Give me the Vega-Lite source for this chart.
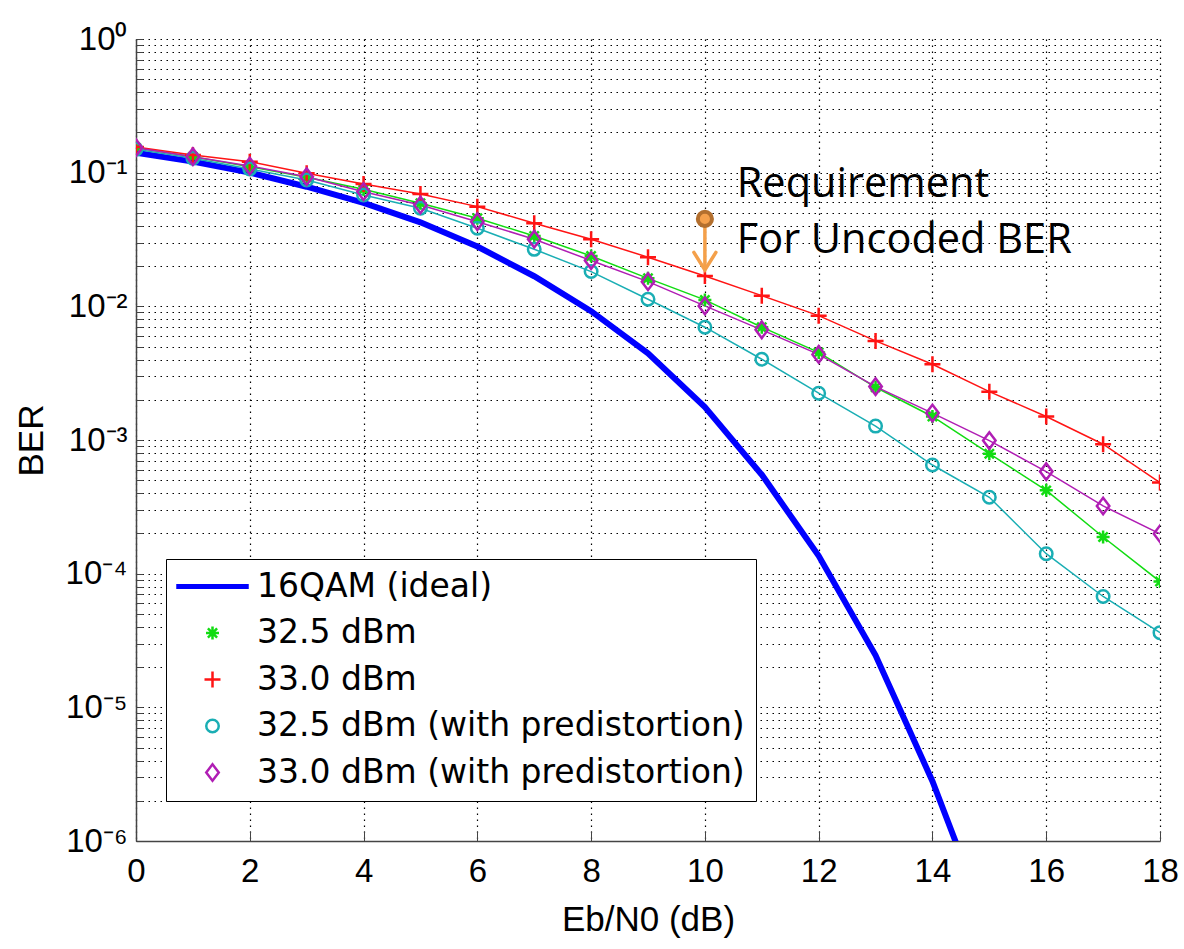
{
  "$schema": "https://vega.github.io/schema/vega-lite/v6.json",
  "width": 1024,
  "height": 802,
  "autosize": {"type": "none"},
  "padding": {"left": 136, "top": 39, "right": 24, "bottom": 108},
  "background": "white",
  "datasets": {
    "curves": [
      {"s": "16QAM (ideal)", "x": 0, "ber": 0.141},
      {"s": "16QAM (ideal)", "x": 1, "ber": 0.121},
      {"s": "16QAM (ideal)", "x": 2, "ber": 0.1},
      {"s": "16QAM (ideal)", "x": 3, "ber": 0.0785},
      {"s": "16QAM (ideal)", "x": 4, "ber": 0.0595},
      {"s": "16QAM (ideal)", "x": 5, "ber": 0.0425},
      {"s": "16QAM (ideal)", "x": 6, "ber": 0.028},
      {"s": "16QAM (ideal)", "x": 7, "ber": 0.0168},
      {"s": "16QAM (ideal)", "x": 8, "ber": 0.0092},
      {"s": "16QAM (ideal)", "x": 9, "ber": 0.00445},
      {"s": "16QAM (ideal)", "x": 10, "ber": 0.00176},
      {"s": "16QAM (ideal)", "x": 11, "ber": 0.00055},
      {"s": "16QAM (ideal)", "x": 12, "ber": 0.000136},
      {"s": "16QAM (ideal)", "x": 13, "ber": 0.0000245},
      {"s": "16QAM (ideal)", "x": 14, "ber": 0.0000028},
      {"s": "16QAM (ideal)", "x": 14.5, "ber": 0.00000078},

      {"s": "32.5 dBm", "x": 0, "ber": 0.1538},
      {"s": "32.5 dBm", "x": 1, "ber": 0.1318},
      {"s": "32.5 dBm", "x": 2, "ber": 0.1109},
      {"s": "32.5 dBm", "x": 3, "ber": 0.0924},
      {"s": "32.5 dBm", "x": 4, "ber": 0.0751},
      {"s": "32.5 dBm", "x": 5, "ber": 0.059},
      {"s": "32.5 dBm", "x": 6, "ber": 0.0456},
      {"s": "32.5 dBm", "x": 7, "ber": 0.0336},
      {"s": "32.5 dBm", "x": 8, "ber": 0.0238},
      {"s": "32.5 dBm", "x": 9, "ber": 0.0162},
      {"s": "32.5 dBm", "x": 10, "ber": 0.01117},
      {"s": "32.5 dBm", "x": 11, "ber": 0.00698},
      {"s": "32.5 dBm", "x": 12, "ber": 0.00452},
      {"s": "32.5 dBm", "x": 13, "ber": 0.00248},
      {"s": "32.5 dBm", "x": 14, "ber": 0.0015},
      {"s": "32.5 dBm", "x": 15, "ber": 0.00079},
      {"s": "32.5 dBm", "x": 16, "ber": 0.00042},
      {"s": "32.5 dBm", "x": 17, "ber": 0.000188},
      {"s": "32.5 dBm", "x": 18, "ber": 0.0000873},

      {"s": "33.0 dBm", "x": 0, "ber": 0.1556},
      {"s": "33.0 dBm", "x": 1, "ber": 0.1356},
      {"s": "33.0 dBm", "x": 2, "ber": 0.1208},
      {"s": "33.0 dBm", "x": 3, "ber": 0.099},
      {"s": "33.0 dBm", "x": 4, "ber": 0.0823},
      {"s": "33.0 dBm", "x": 5, "ber": 0.0693},
      {"s": "33.0 dBm", "x": 6, "ber": 0.0557},
      {"s": "33.0 dBm", "x": 7, "ber": 0.0419},
      {"s": "33.0 dBm", "x": 8, "ber": 0.0318},
      {"s": "33.0 dBm", "x": 9, "ber": 0.0233},
      {"s": "33.0 dBm", "x": 10, "ber": 0.01687},
      {"s": "33.0 dBm", "x": 11, "ber": 0.01202},
      {"s": "33.0 dBm", "x": 12, "ber": 0.00852},
      {"s": "33.0 dBm", "x": 13, "ber": 0.00551},
      {"s": "33.0 dBm", "x": 14, "ber": 0.00369},
      {"s": "33.0 dBm", "x": 15, "ber": 0.0023},
      {"s": "33.0 dBm", "x": 16, "ber": 0.0015},
      {"s": "33.0 dBm", "x": 17, "ber": 0.00093},
      {"s": "33.0 dBm", "x": 18, "ber": 0.00048},

      {"s": "32.5 dBm (with predistortion)", "x": 0, "ber": 0.1496},
      {"s": "32.5 dBm (with predistortion)", "x": 1, "ber": 0.1282},
      {"s": "32.5 dBm (with predistortion)", "x": 2, "ber": 0.1066},
      {"s": "32.5 dBm (with predistortion)", "x": 3, "ber": 0.0882},
      {"s": "32.5 dBm (with predistortion)", "x": 4, "ber": 0.0681},
      {"s": "32.5 dBm (with predistortion)", "x": 5, "ber": 0.0542},
      {"s": "32.5 dBm (with predistortion)", "x": 6, "ber": 0.0384},
      {"s": "32.5 dBm (with predistortion)", "x": 7, "ber": 0.0267},
      {"s": "32.5 dBm (with predistortion)", "x": 8, "ber": 0.0182},
      {"s": "32.5 dBm (with predistortion)", "x": 9, "ber": 0.0113},
      {"s": "32.5 dBm (with predistortion)", "x": 10, "ber": 0.00698},
      {"s": "32.5 dBm (with predistortion)", "x": 11, "ber": 0.00402},
      {"s": "32.5 dBm (with predistortion)", "x": 12, "ber": 0.00224},
      {"s": "32.5 dBm (with predistortion)", "x": 13, "ber": 0.00127},
      {"s": "32.5 dBm (with predistortion)", "x": 14, "ber": 0.00065},
      {"s": "32.5 dBm (with predistortion)", "x": 15, "ber": 0.000373},
      {"s": "32.5 dBm (with predistortion)", "x": 16, "ber": 0.000141},
      {"s": "32.5 dBm (with predistortion)", "x": 17, "ber": 0.0000675},
      {"s": "32.5 dBm (with predistortion)", "x": 18, "ber": 0.0000362},

      {"s": "33.0 dBm (with predistortion)", "x": 0, "ber": 0.1538},
      {"s": "33.0 dBm (with predistortion)", "x": 1, "ber": 0.1318},
      {"s": "33.0 dBm (with predistortion)", "x": 2, "ber": 0.1122},
      {"s": "33.0 dBm (with predistortion)", "x": 3, "ber": 0.0933},
      {"s": "33.0 dBm (with predistortion)", "x": 4, "ber": 0.0721},
      {"s": "33.0 dBm (with predistortion)", "x": 5, "ber": 0.0573},
      {"s": "33.0 dBm (with predistortion)", "x": 6, "ber": 0.043},
      {"s": "33.0 dBm (with predistortion)", "x": 7, "ber": 0.0318},
      {"s": "33.0 dBm (with predistortion)", "x": 8, "ber": 0.022},
      {"s": "33.0 dBm (with predistortion)", "x": 9, "ber": 0.0153},
      {"s": "33.0 dBm (with predistortion)", "x": 10, "ber": 0.01007},
      {"s": "33.0 dBm (with predistortion)", "x": 11, "ber": 0.00667},
      {"s": "33.0 dBm (with predistortion)", "x": 12, "ber": 0.00437},
      {"s": "33.0 dBm (with predistortion)", "x": 13, "ber": 0.00251},
      {"s": "33.0 dBm (with predistortion)", "x": 14, "ber": 0.00159},
      {"s": "33.0 dBm (with predistortion)", "x": 15, "ber": 0.00099},
      {"s": "33.0 dBm (with predistortion)", "x": 16, "ber": 0.00058},
      {"s": "33.0 dBm (with predistortion)", "x": 17, "ber": 0.000321},
      {"s": "33.0 dBm (with predistortion)", "x": 18, "ber": 0.000199}
    ],
    "arrow": [{"x": 10, "ber": 0.0451, "ber2": 0.0187}],
    "tip": [{"x": 10, "ber": 0.0187}],
    "dot": [{"x": 10, "ber": 0.0451}],
    "note": [
      {"x": 10.56, "ber": 0.0658, "label": "Requirement"},
      {"x": 10.56, "ber": 0.0251, "label": "For Uncoded BER"}
    ]
  },
  "encoding": {
    "x": {
      "field": "x", "type": "quantitative",
      "scale": {"domain": [0, 18], "nice": false, "zero": false},
      "axis": {
        "title": "Eb/N0 (dB)",
        "values": [0, 2, 4, 6, 8, 10, 12, 14, 16, 18],
        "grid": true, "tickSize": -10, "labelPadding": 24,
        "titlePadding": 14, "labelFlush": false, "labelOverlap": false, "labelBound": false
      }
    },
    "y": {
      "field": "ber", "type": "quantitative",
      "scale": {"type": "log", "domain": [0.000001, 1], "nice": false},
      "axis": {
        "title": "BER",
        "values": [0.000001, 0.000002, 0.000003, 0.000004, 0.000005, 0.000006, 0.000007, 0.000008, 0.000009,
                   0.00001, 0.00002, 0.00003, 0.00004, 0.00005, 0.00006, 0.00007, 0.00008, 0.00009,
                   0.0001, 0.0002, 0.0003, 0.0004, 0.0005, 0.0006, 0.0007, 0.0008, 0.0009,
                   0.001, 0.002, 0.003, 0.004, 0.005, 0.006, 0.007, 0.008, 0.009,
                   0.01, 0.02, 0.03, 0.04, 0.05, 0.06, 0.07, 0.08, 0.09,
                   0.1, 0.2, 0.3, 0.4, 0.5, 0.6, 0.7, 0.8, 0.9, 1],
        "labelExpr": "abs(datum.value / pow(10, round(log(datum.value) / LN10)) - 1) < 0.001 ? '10' + ['⁰','⁻¹','⁻²','⁻³','⁻⁴','⁻⁵','⁻⁶'][-round(log(datum.value) / LN10)] : ''",
        "grid": true, "tickSize": -7, "labelPadding": 16,
        "titlePadding": 16, "labelFlush": false, "labelOverlap": false, "labelBound": false
      }
    }
  },
  "layer": [
    {
      "data": {"name": "curves"},
      "mark": {"type": "line", "clip": true},
      "encoding": {
        "color": {
          "field": "s", "type": "nominal",
          "scale": {
            "domain": ["16QAM (ideal)", "32.5 dBm", "33.0 dBm", "32.5 dBm (with predistortion)", "33.0 dBm (with predistortion)"],
            "range": ["#0000ff", "#12dc12", "#ff1414", "#1aaeb4", "#b01eb4"]
          },
          "legend": {"title": null}
        },
        "strokeWidth": {"condition": {"test": "datum.s === '16QAM (ideal)'", "value": 6}, "value": 1.5}
      }
    },
    {
      "data": {"name": "curves"},
      "transform": [{"filter": "datum.s !== '16QAM (ideal)'"}],
      "mark": {"type": "point", "filled": false, "opacity": 1, "strokeWidth": 2.5, "size": 100, "clip": true},
      "encoding": {
        "color": {"field": "s", "type": "nominal", "legend": {"title": null}},
        "shape": {
          "field": "s", "type": "nominal",
          "scale": {
            "domain": ["16QAM (ideal)", "32.5 dBm", "33.0 dBm", "32.5 dBm (with predistortion)", "33.0 dBm (with predistortion)"],
            "range": [
              "M-7,-0.25L7,-0.25L7,0.25L-7,0.25Z",
              "M0,-1.3L0,1.3M-1.3,0L1.3,0M-0.92,-0.92L0.92,0.92M-0.92,0.92L0.92,-0.92",
              "M-1.6,0L1.6,0M0,-1.6L0,1.6",
              "M-1.25,0A1.25,1.25,0,1,1,1.25,0A1.25,1.25,0,1,1,-1.25,0Z",
              "M-1.25,0L0,-1.65L1.25,0L0,1.65Z"
            ]
          },
          "legend": {"title": null}
        }
      }
    },
    {
      "data": {"name": "arrow"},
      "mark": {"type": "rule", "color": "#f4a04a", "strokeWidth": 3.5},
      "encoding": {"y2": {"field": "ber2"}}
    },
    {
      "data": {"name": "tip"},
      "mark": {"type": "point", "shape": "M-1,-1.6L0,0L1,-1.6", "size": 484, "filled": false, "opacity": 1, "color": "#f4a04a", "strokeWidth": 3.5, "strokeCap": "round"},
      "encoding": {}
    },
    {
      "data": {"name": "dot"},
      "mark": {"type": "point", "shape": "circle", "size": 200, "filled": true, "opacity": 1, "fill": "#f5a04c", "stroke": "#b36f2e", "strokeWidth": 4},
      "encoding": {}
    },
    {
      "data": {"name": "note"},
      "mark": {"type": "text", "align": "left", "baseline": "alphabetic", "font": "Open Sans", "fontSize": 41.5, "color": "black"},
      "encoding": {"text": {"field": "label"}}
    }
  ],
  "config": {
    "view": {"stroke": null},
    "axis": {
      "labelFont": "Liberation Sans", "labelFontSize": 33, "labelColor": "black",
      "titleFont": "Liberation Sans", "titleFontSize": 35, "titleFontWeight": "normal", "titleColor": "black",
      "domainColor": "#444", "domainWidth": 1.5, "tickColor": "#444", "tickWidth": 1,
      "gridColor": "#000", "gridDash": [1.5, 4.5], "gridOpacity": 1, "gridWidth": 1.2
    },
    "legend": {
      "orient": "none", "legendX": 30, "legendY": 520,
      "padding": 11, "rowPadding": 12.5,
      "symbolSize": 100, "symbolStrokeWidth": 2.5, "symbolOffset": 19, "labelOffset": 28,
      "labelFont": "DejaVu Sans", "labelFontSize": 33, "labelLimit": 700, "labelColor": "black",
      "strokeColor": "black", "fillColor": "white", "cornerRadius": 0
    }
  }
}
